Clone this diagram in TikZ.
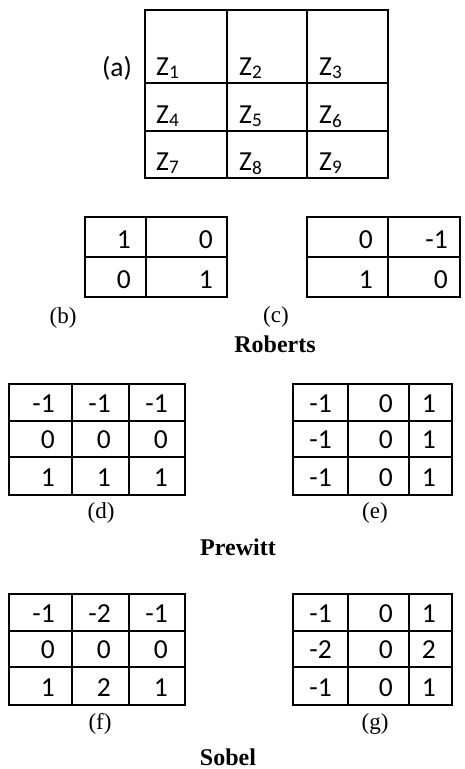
\documentclass[tikz,border=0pt]{standalone}
\usepackage{fontspec}
\setmainfont{Liberation Serif}
\newfontfamily\calfont{Carlito}
\begin{document}
\begin{tikzpicture}[x=1pt,y=-1pt,
  gridline/.style={line width=2pt},
  num/.style={anchor=base east, inner sep=0pt, font=\calfont\fontsize{27.5}{30}\selectfont},
  zlab/.style={anchor=base west, inner sep=0pt, font=\calfont\fontsize{27.5}{30}\selectfont},
  sublabel/.style={inner sep=0pt, font=\fontsize{23}{27}\selectfont},
  ttl/.style={inner sep=0pt, font=\bfseries\fontsize{24}{28}\selectfont}]
\useasboundingbox (0,0) rectangle (464,769);

% (a) grid
\draw[gridline] (145,10) rectangle (388,178);
\draw[gridline] (227,10)--(227,178) (307,10)--(307,178) (145,83)--(388,83) (145,131)--(388,131);
\node[inner sep=0pt, font=\calfont\fontsize{27.5}{30}\selectfont] (la) at (117,68) {(a)};
\node[zlab] (z1) at (156,75) {Z\textsubscript{1}};
\node[zlab] (z2) at (239,75) {Z\textsubscript{2}};
\node[zlab] (z3) at (319,75) {Z\textsubscript{3}};
\node[zlab] (z4) at (156,123) {Z\textsubscript{4}};
\node[zlab] (z5) at (239,123) {Z\textsubscript{5}};
\node[zlab] (z6) at (319,123) {Z\textsubscript{6}};
\node[zlab] (z7) at (156,170) {Z\textsubscript{7}};
\node[zlab] (z8) at (239,170) {Z\textsubscript{8}};
\node[zlab] (z9) at (319,170) {Z\textsubscript{9}};

% Roberts (b)
\draw[gridline] (85,217) rectangle (227,297);
\draw[gridline] (146,217)--(146,297) (85,257)--(227,257);
\node[num] (b11) at (131,248) {1};
\node[num] (b12) at (213,248) {0};
\node[num] (b21) at (131,288) {0};
\node[num] (b22) at (213,288) {1};
% Roberts (c)
\draw[gridline] (307,217) rectangle (460,297);
\draw[gridline] (388,217)--(388,297) (307,257)--(460,257);
\node[num] (c11) at (373,248) {0};
\node[num] (c12) at (448,248) {-1};
\node[num] (c21) at (373,288) {1};
\node[num] (c22) at (448,288) {0};
\node[sublabel] (lb) at (63,318) {(b)};
\node[sublabel] (lc) at (276,317) {(c)};
\node[ttl] (rob) at (275,344) {Roberts};

% Prewitt (d)
\draw[gridline] (9,384) rectangle (185,495);
\draw[gridline] (72,384)--(72,495) (129,384)--(129,495) (9,421)--(185,421) (9,457)--(185,457);
\node[num] (d11) at (55,412) {-1};
\node[num] (d12) at (111,412) {-1};
\node[num] (d13) at (168,412) {-1};
\node[num] (d21) at (55,448) {0};
\node[num] (d22) at (111,448) {0};
\node[num] (d23) at (168,448) {0};
\node[num] (d31) at (55,486) {1};
\node[num] (d32) at (111,486) {1};
\node[num] (d33) at (168,486) {1};
% Prewitt (e)
\draw[gridline] (293,384) rectangle (452,495);
\draw[gridline] (348,384)--(348,495) (409,384)--(409,495) (293,421)--(452,421) (293,457)--(452,457);
\node[num] (e11) at (332,412) {-1};
\node[num] (e12) at (393,412) {0};
\node[num] (e13) at (436,412) {1};
\node[num] (e21) at (332,448) {-1};
\node[num] (e22) at (393,448) {0};
\node[num] (e23) at (436,448) {1};
\node[num] (e31) at (332,486) {-1};
\node[num] (e32) at (393,486) {0};
\node[num] (e33) at (436,486) {1};
\node[sublabel] (ld) at (101,513) {(d)};
\node[sublabel] (le) at (375,513) {(e)};
\node[ttl] (pre) at (238,547) {Prewitt};

% Sobel (f)
\draw[gridline] (9,594) rectangle (185,705);
\draw[gridline] (72,594)--(72,705) (129,594)--(129,705) (9,631)--(185,631) (9,667)--(185,667);
\node[num] (f11) at (55,622) {-1};
\node[num] (f12) at (111,622) {-2};
\node[num] (f13) at (168,622) {-1};
\node[num] (f21) at (55,658) {0};
\node[num] (f22) at (111,658) {0};
\node[num] (f23) at (168,658) {0};
\node[num] (f31) at (55,696) {1};
\node[num] (f32) at (111,696) {2};
\node[num] (f33) at (168,696) {1};
% Sobel (g)
\draw[gridline] (293,594) rectangle (452,705);
\draw[gridline] (348,594)--(348,705) (409,594)--(409,705) (293,631)--(452,631) (293,667)--(452,667);
\node[num] (g11) at (332,622) {-1};
\node[num] (g12) at (393,622) {0};
\node[num] (g13) at (436,622) {1};
\node[num] (g21) at (332,658) {-2};
\node[num] (g22) at (393,658) {0};
\node[num] (g23) at (436,658) {2};
\node[num] (g31) at (332,696) {-1};
\node[num] (g32) at (393,696) {0};
\node[num] (g33) at (436,696) {1};
\node[sublabel] (lf) at (100,724) {(f)};
\node[sublabel] (lg) at (375,724) {(g)};
\node[ttl] (sob) at (228,757) {Sobel};
\end{tikzpicture}
\end{document}
